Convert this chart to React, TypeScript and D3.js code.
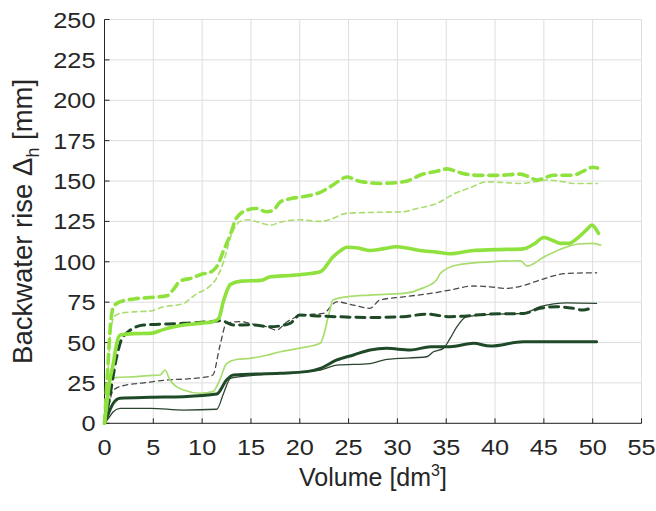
import React from "react";
import * as d3 from "d3";

const W = 656;
const H = 511;

const xTicks = [0, 5, 10, 15, 20, 25, 30, 35, 40, 45, 50, 55];
const yTicks = [0, 25, 50, 75, 100, 125, 150, 175, 200, 225, 250];

// light green thick dashed
const seriesA: [number, number][] = [[0,0],[0.3,30],[0.6,60],[0.9,72],[1.5,75],[3,77],[5,78],[6.4,79],[7.2,84],[7.7,88],[9,90],[9.8,92],[11,94],[11.6,98],[12.2,107],[12.9,117],[13.5,127],[14.6,132],[15.5,133],[16.6,131],[17.3,132],[18,137],[19,139],[20,140],[21,141],[22.1,143],[23,146],[24,150],[24.8,152.5],[26,150],[27,149],[28.2,148.5],[29.9,149],[31,150],[32.5,154],[34,156],[35.1,157.5],[36,156],[36.8,154.5],[38.5,153.5],[40.2,153.5],[42.6,154.3],[43.5,152.5],[44.3,150.6],[45.3,152.5],[46,153.6],[48,153.6],[49,156],[50,158.5],[50.5,158]];
// light green thin dashed
const seriesB: [number, number][] = [[0,0],[0.3,25],[0.6,55],[1,66],[1.6,68],[3,69],[4.7,69.5],[6,72],[8,74],[9.4,80],[10.8,85],[11.5,90],[12.2,100],[12.9,115],[13.9,125],[14.6,126],[15.6,124.8],[17,122.7],[18,124.5],[20,126],[22.1,125],[23,126],[24.8,130],[27,130.5],[30.6,131],[32,133],[34,136],[35.8,142],[37.5,146],[39.2,149.5],[41,149],[42.6,148.5],[44,149.5],[45.3,150.6],[47,149.5],[48,148.5],[50.5,148.5]];
// light green thick solid
const seriesC: [number, number][] = [[0,0],[0.2,10],[0.5,25],[0.9,37],[1.2,48],[1.6,54.6],[3,55.5],[4.7,55.7],[6,58],[8.1,60.8],[10,62],[11.1,62.9],[11.7,65],[12.2,76],[12.9,86],[14,88],[16,88.5],[17,90.7],[19,91.5],[20,92],[22.1,93.8],[23.4,103],[24.2,107],[24.8,109],[26,108.5],[27.2,107],[28.5,108],[29.9,109.3],[31,108.5],[32.3,107],[34,106],[35.4,105],[37.8,107],[40,107.5],[42.9,108],[44,111],[45,115],[46,113],[46.7,111.4],[47.6,111.5],[48.5,115],[49.5,120.5],[49.9,122.7],[50.6,117.6]];
// light green thin solid
const seriesD: [number, number][] = [[0,0],[0.3,15],[0.56,27.8],[1.5,28.5],[2.9,28.8],[4.5,29.5],[5.7,29.9],[6.2,33],[6.7,26.8],[7.3,23],[8.1,20.6],[9.8,18.6],[11.1,19.6],[11.8,26.8],[12.5,37],[13.5,39.5],[14.9,40.2],[16.5,42],[18,44.3],[20,46.5],[22.1,49.5],[22.4,53.6],[23,68],[23.4,76.3],[24.8,78.3],[27.2,79.4],[30.6,80.4],[32.6,83.7],[34,88.7],[34.4,92.8],[36.1,98],[39.5,100],[42.6,100.6],[43.3,97.3],[45,103],[47.4,109.3],[48.5,111],[50.1,111.4],[50.8,110.3]];
// dark thin dashed
const seriesE: [number, number][] = [[0,0],[0.4,10],[0.9,20.6],[2.2,23.7],[4,25],[6.4,26.8],[8.5,27.5],[10.5,28.8],[11.1,29.9],[11.8,47.4],[12.5,61.9],[13.9,62.9],[15.5,61],[16.6,59.8],[17.6,57.7],[18.7,62.9],[20.4,67],[22.4,68],[23.8,75.2],[25.5,73.2],[27.2,71.2],[28.2,76.3],[30.6,78.3],[33.4,80.4],[35.4,82.5],[37.8,85],[39.5,84.5],[41.2,83.5],[43,85.5],[44.6,88.7],[47.4,92.8],[50.4,93.2]];
// dark thick dashed
const seriesF: [number, number][] = [[0,0],[0.5,15],[1.25,41.2],[1.9,53.6],[4,60.8],[8.1,61.9],[10.8,62.9],[12,63.5],[13.2,60.8],[15,61],[17,59.8],[19,61.9],[20,67],[22.1,66.4],[23.8,66],[27.2,65.5],[30.6,66],[33,67.6],[35.4,66],[39.5,67.6],[42.9,68],[44.6,71.2],[46.3,72.2],[48,71.2],[49,70.1],[50.1,72.2]];
// dark thin solid
const seriesG: [number, number][] = [[0,0],[0.4,3],[0.9,7.2],[1.6,9.3],[4.7,9.3],[8.1,8.2],[11.5,8.7],[12.2,18.6],[12.9,27.8],[15,29.5],[18,31],[22.1,33],[23.8,36],[27.2,37],[28.9,39.6],[33,41.2],[33.7,44.3],[34.7,46.4],[35.4,52.6],[36.1,59.8],[37.1,66],[39.5,67.4],[42.9,68],[44.6,72.2],[47.4,74.6],[50.4,74.2]];
// dark thick solid
const seriesH: [number, number][] = [[0,0],[0.4,6],[0.9,12.4],[1.6,15.5],[4.7,16.1],[8.1,16.5],[11.5,18.1],[12.5,26.8],[13.2,29.9],[18,31],[20.7,32],[22.1,34],[23.8,39.2],[25.5,42.3],[27.2,45.4],[28.9,46.4],[31.3,45.4],[33.4,47.4],[35.4,47.4],[37.8,49.5],[39.5,47.8],[42.9,50.5],[46.3,50.5],[50.4,50.5]];

const LIGHT = "#8fe23e";
const LIGHT_THIN = "#a9dd6e";
const DARK = "#1f4a28";
const DARK_THIN = "#2c4530";
const GRAY = "#4a4a4a";

const styles = [
  { data: seriesE, color: GRAY, width: 1.3, dash: "5,4" },
  { data: seriesG, color: DARK_THIN, width: 1.3, dash: "" },
  { data: seriesB, color: LIGHT_THIN, width: 1.6, dash: "5,4" },
  { data: seriesD, color: LIGHT_THIN, width: 1.7, dash: "" },
  { data: seriesH, color: DARK, width: 3, dash: "" },
  { data: seriesF, color: DARK, width: 3, dash: "9,6" },
  { data: seriesC, color: LIGHT, width: 3.6, dash: "" },
  { data: seriesA, color: LIGHT, width: 3.6, dash: "9,6" },
];

export default function App() {
  const left = 104.5, right = 641.5, top = 19.5, bottom = 423.3;
  const x = d3.scaleLinear().domain([0, 55]).range([left, right]);
  const y = d3.scaleLinear().domain([0, 250]).range([bottom, top]);
  const line = d3
    .line<[number, number]>()
    .x((d) => x(d[0]))
    .y((d) => y(d[1]))
    .curve(d3.curveMonotoneX);
  const font = "'Liberation Sans', Arial, Helvetica, sans-serif";
  const txt = "#262626";
  return (
    <svg
      width={W}
      height={H}
      style={{ position: "absolute", left: 0, top: 0, background: "#fff" }}
      fontFamily={font}
    >
      <rect x={0} y={0} width={W} height={H} fill="#fff" />
      {/* grid */}
      {xTicks.map((t) => (
        <line key={"gx" + t} x1={x(t)} x2={x(t)} y1={top} y2={bottom} stroke="#dedede" strokeWidth={1} />
      ))}
      {yTicks.map((t) => (
        <line key={"gy" + t} x1={left} x2={right} y1={y(t)} y2={y(t)} stroke="#dedede" strokeWidth={1} />
      ))}
      {/* axes */}
      <line x1={left} x2={right} y1={bottom} y2={bottom} stroke={txt} strokeWidth={1} />
      <line x1={left} x2={left} y1={top} y2={bottom} stroke={txt} strokeWidth={1} />
      {xTicks.map((t) => (
        <line key={"tx" + t} x1={x(t)} x2={x(t)} y1={bottom} y2={bottom - 5} stroke={txt} strokeWidth={1} />
      ))}
      {yTicks.map((t) => (
        <line key={"ty" + t} x1={left} x2={left + 5} y1={y(t)} y2={y(t)} stroke={txt} strokeWidth={1} />
      ))}
      {/* series */}
      {styles.map((s, i) => (
        <path
          key={i}
          d={line(s.data) || ""}
          fill="none"
          stroke={s.color}
          strokeWidth={s.width}
          strokeDasharray={s.dash || undefined}
          strokeLinejoin="round"
          strokeLinecap="round"
        />
      ))}
      {/* tick labels */}
      {xTicks.map((t) => (
        <text
          key={"lx" + t}
          transform={`translate(${x(t)},${bottom + 32}) scale(1.15,1)`}
          textAnchor="middle"
          fontSize={22}
          fill={txt}
        >
          {t}
        </text>
      ))}
      {yTicks.map((t) => (
        <text
          key={"ly" + t}
          transform={`translate(${left - 9},${y(t) + 8}) scale(1.15,1)`}
          textAnchor="end"
          fontSize={22}
          fill={txt}
        >
          {t}
        </text>
      ))}
      {/* axis labels */}
      <text x={(left + right) / 2} y={486} textAnchor="middle" fontSize={25} fill={txt}>
        Volume [dm<tspan dy={-10} fontSize={16}>3</tspan>
        <tspan dy={10}>]</tspan>
      </text>
      <text
        transform={`translate(32,${(top + bottom) / 2}) rotate(-90)`}
        textAnchor="middle"
        fontSize={27.5}
        fill={txt}
      >
        Backwater rise Δ<tspan dy={7} fontSize={18}>h</tspan>
        <tspan dy={-7}> [mm]</tspan>
      </text>
    </svg>
  );
}
